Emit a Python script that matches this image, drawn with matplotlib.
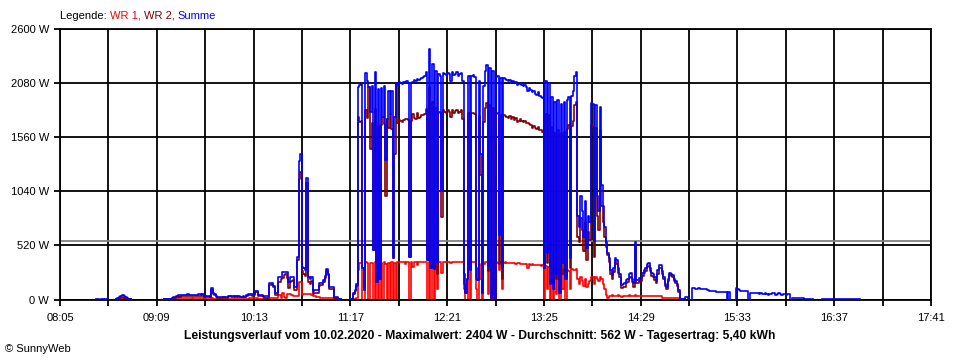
import matplotlib.pyplot as plt
import numpy as np

nan = np.nan

# Minutenwerte ab 08:25 (Minute 20 nach 08:05), Leistung in W
start_min = 20

summe = [
    nan, nan, nan, nan, 4, 4, nan, 4, 4, nan,                    # 08:25
    4, 4, nan, nan, nan, nan, nan, 5, 15, 25,                     # 08:35
    35, 45, 35, 25, 15, 8, 4, nan, nan, nan,                      # 08:45
    nan, nan, nan, nan, nan, nan, nan, nan, nan, nan,             # 08:55
    nan, nan, nan, nan, nan, nan, nan, nan, nan, 3,               # 09:05
    3, 3, 3, 10, 20, 28, 28, 35, 44, 40,                          # 09:15
    45, 48, 42, 44, 50, 46, 44, 40, 44, 48,                       # 09:25
    44, 50, 52, 48, 50, 38, 30, 30, 32, 28,                       # 09:35
    111, 60, 50, 35, 24, 24, 22, 24, 26, 24,                      # 09:45
    24, 35, 38, 32, 35, 38, 34, 36, 30, 28,                       # 09:55
    28, 30, 26, 40, 52, 55, 52, 50, 55, 83,                       # 10:05
    83, 45, 45, 45, 30, 30, 30, 30, 160, 160,                     # 10:15
    160, 130, 60, 60, 218, 218, 218, 265, 265, 265,               # 10:25
    265, 170, 220, 220, 220, 125, 125, 413, 1330, 1400,           # 10:35
    317, 300, 280, 1170, 220, 200, 220, 80, 92, 92,               # 10:45
    92, 160, 160, 160, 190, 230, 295, 250, 120, 120,              # 10:55
    120, 25, 25, 25, 5, 5, nan, nan, nan, nan,                    # 11:05
    nan, nan, 5, 10, 60, 90, 150, 2040, 2060, 2075,               # 11:15
    300, 90, 2180, 2100, 2040, 1800, 2050, 475, 2190, 170,        # 11:25
    2020, 200, 2030, 1750, 2050, 1340, 1740, 2000, 1780, 2000,    # 11:35
    400, 1750, 2080, 2060, 2090, 2080, 2070, 2090, 2080, 2100,    # 11:45
    2085, 410, 2080, 2090, 2110, 2100, 2120, 2110, 2120, 2130,    # 11:55
    2140, 2150, 2190, 380, 2404, 300, 2260, 290, 2200, 350,       # 12:05
    2170, 2150, 1050, 2180, 2170, 2160, 2180, 2170, 2100, 2190,   # 12:15
    2160, 2170, 2190, 2150, 2170, 2180, 2100, 250, 60, 200,       # 12:25
    2150, 280, 2150, 2160, 2140, 300, 190, 2100, 1400, 60,        # 12:35
    2050, 2200, 2250, 320, 2230, 15, 2200, 15, 2140, 2150,        # 12:45
    620, 2130, 300, 2130, 2120, 2110, 2100, 2110, 2090, 2100,     # 12:55
    2080, 2090, 2060, 2070, 2080, 2060, 2050, 2060, 2040, 2000,   # 13:05
    2030, 2010, 1990, 2000, 1980, 1970, 1990, 1960, 1950, 1940,   # 13:15
    300, 2100, 450, 2080, 150, 1950, 100, 1900, 250, 1920,        # 13:25
    60, 1880, 350, 1900, 200, 1920, 1950, 400, 1960, 2000,        # 13:35
    2150, 2190, 800, 700, 1000, 850, 600, 950, 500, 800,          # 13:45
    750, 1890, 1880, 560, 1870, 1000, 850, 1850, 1100, 900,       # 13:55
    700, 550, 450, 400, 280, 240, 300, 400, 380, 300,             # 14:05
    250, 140, 150, 160, 190, 200, 250, 255, 200, 160,             # 14:15
    555, 190, 190, 205, 210, 260, 285, 300, 340, 350,             # 14:25
    300, 255, 250, 220, 190, 280, 335, 330, 270, 220,             # 14:35
    150, 120, 200, 255, 250, 240, 200, 180, 150, 95,              # 14:45
    10, 5, 5, 25, 25, 3, 0, 0, 110, 115,                          # 14:55
    100, 105, 110, 105, 100, 100, 105, 100, 95, 83,               # 15:05
    83, 83, 83, 80, 75, 73, 73, 73, 73, 73,                       # 15:15
    73, 0, 70, 0, 0, 0, 0, 110, 100, 90,                          # 15:25
    85, 85, 85, 80, 80, 0, 66, 66, 66, 65,                        # 15:35
    60, 60, 55, 60, 50, 55, 60, 50, 45, 55,                       # 15:45
    50, 60, 65, 45, 55, 60, 50, 45, 55, 50,                       # 15:55
    45, 55, 50, 0, 15, 15, 15, 12, 12, 12,                        # 16:05
    12, 12, 8, 6, 6, 6, 6, 6, nan, nan,                           # 16:15
    nan, nan, nan, nan, 5, 5, 5, 5, 5, 5,                         # 16:25
    5, 5, 5, 5, 5, 5, 5, 5, 5, 5,                                 # 16:35
    5, 5, 5, 5, 5, 5, 5, 5, 5, 5,                                 # 16:45
]

wr1 = [
    nan, nan, nan, nan, nan, nan, nan, nan, nan, nan,             # 08:25
    nan, nan, nan, nan, nan, nan, nan, 3, 10, 15,                 # 08:35
    22, 28, 20, 15, 8, 5, 3, nan, nan, nan,                       # 08:45
    nan, nan, nan, nan, nan, nan, nan, nan, nan, nan,             # 08:55
    nan, nan, nan, nan, nan, nan, nan, nan, nan, 0,               # 09:05
    0, 0, 2, 5, 8, 10, 12, 12, 14, 12,                            # 09:15
    14, 15, 12, 12, 14, 12, 12, 10, 12, 14,                       # 09:25
    12, 14, 15, 12, 12, 10, 8, 8, 8, 6,                           # 09:35
    15, 10, 8, 6, 5, 5, 5, 5, 5, 5,                               # 09:45
    5, 6, 8, 6, 6, 8, 6, 6, 5, 5,                                 # 09:55
    5, 6, 5, 8, 10, 12, 12, 15, 15, 12,                           # 10:05
    12, 10, 10, 8, 8, 10, 12, 15, 15, 15,                         # 10:15
    12, 12, 15, 20, 45, 45, 20, 60, 25, 20,                       # 10:25
    55, 55, 50, 40, 30, 30, 30, 30, 172, 172,                     # 10:35
    40, 55, 55, 50, 55, 50, 45, 30, 30, 28,                       # 10:45
    25, 25, 20, 20, 20, 18, 18, 18, 18, 15,                       # 10:55
    15, 15, 12, 5, 3, 3, nan, nan, nan, nan,                      # 11:05
    nan, nan, 3, 5, 8, 10, 20, 285, 350, 355,                     # 11:15
    0, 0, 360, 355, 0, 350, 355, 0, 360, 0,                       # 11:25
    350, 0, 355, 0, 360, 340, 0, 355, 0, 360,                     # 11:35
    0, 355, 0, 360, 365, 360, 365, 360, 340, 365,                 # 11:45
    360, 0, 360, 310, 365, 360, 330, 365, 365, 360,               # 11:55
    365, 365, 360, 0, 360, 0, 365, 0, 360, 100,                   # 12:05
    365, 360, 260, 360, 365, 365, 360, 365, 350, 365,             # 12:15
    365, 360, 365, 360, 365, 360, 365, 100, 0, 0,                 # 12:25
    360, 0, 360, 365, 360, 100, 0, 340, 200, 0,                   # 12:35
    340, 360, 365, 50, 360, 0, 355, 0, 360, 355,                  # 12:45
    280, 360, 100, 355, 360, 355, 355, 350, 355, 350,             # 12:55
    350, 345, 350, 350, 345, 340, 345, 345, 340, 300,             # 13:05
    340, 335, 340, 335, 330, 335, 330, 330, 325, 330,             # 13:15
    0, 320, 100, 310, 0, 290, 0, 300, 50, 290,                    # 13:25
    0, 280, 100, 290, 0, 280, 270, 100, 290, 280,                 # 13:35
    285, 290, 200, 150, 220, 180, 130, 200, 120, 150,             # 13:45
    180, 215, 220, 150, 220, 200, 180, 220, 200, 150,             # 13:55
    100, 45, 20, 35, 30, 40, 35, 30, 35, 40,                      # 14:05
    30, 25, 30, 35, 30, 35, 40, 35, 30, 35,                       # 14:15
    40, 35, 30, 30, 30, 30, 30, 30, 30, 30,                       # 14:25
    30, 30, 30, 30, 30, 30, 30, 30, 20, 20,                       # 14:35
    20, 20, 20, 20, 20, 20, 20, 20, 20, 20,                       # 14:45
    0, 0, 0,                                                      # 14:55
]

durchschnitt = 562
x_labels = ['08:05', '09:09', '10:13', '11:17', '12:21', '13:25', '14:29', '15:33', '16:37', '17:41']
y_werte = [0, 520, 1040, 1560, 2080, 2600]

titel = ('Leistungsverlauf vom 10.02.2020 - Maximalwert: 2404 W - '
         'Durchschnitt: 562 W - Tagesertrag: 5,40 kWh')
legende_teile = ['Legende: ', 'WR 1, ', 'WR 2, ', 'Summe']
legende_farben = ['black', '#ff0000', '#800000', '#0000ff']

wr1 = wr1 + [nan] * (len(summe) - len(wr1))
summe = np.array(summe, dtype=float)
wr1 = np.array(wr1, dtype=float)
wr2 = summe - wr1
t = start_min + np.arange(len(summe))

plt.rcParams['font.family'] = ['Liberation Sans', 'DejaVu Sans']
plt.rcParams['font.size'] = 8

W, H = 960, 360
fig = plt.figure(figsize=(W / 100, H / 100), dpi=100)
ax = fig.add_axes([60 / W, 1 - 299.6 / H, 871 / W, 270.6 / H])

lw_grid = 1.3
lw = 1.2
ax.axhline(durchschnitt, color='#808080', lw=lw_grid, zorder=1.5)
ax.plot(t, wr1, drawstyle='steps-post', color='#ff0000', lw=lw, zorder=2)
ax.plot(t, wr2, drawstyle='steps-post', color='#800000', lw=lw, zorder=3)
ax.plot(t, summe, drawstyle='steps-post', color='#0000ff', lw=lw, zorder=4)

ax.set_xlim(0, 576)
ax.set_ylim(0, 2600)
ax.set_xticks(np.arange(0, 577, 64))
ax.set_xticklabels(x_labels)
ax.set_xticks(np.arange(32, 577, 64), minor=True)
ax.set_yticks(y_werte)
ax.set_yticklabels([f'{v} W' for v in y_werte])

ax.tick_params(axis='both', which='both', length=4, width=lw_grid, color='black',
               labelsize=8, labelcolor='black')
ax.tick_params(axis='x', which='major', pad=6)
ax.tick_params(axis='y', which='major', pad=4)
ax.set_axisbelow(True)
ax.grid(axis='x', which='both', color='black', lw=lw_grid)
ax.grid(axis='y', which='major', color='black', lw=lw_grid)
for s in ax.spines.values():
    s.set_linewidth(lw_grid)
    s.set_color('black')

fig.text(0.5, 1 - 336 / H, titel, ha='center', va='center',
         fontsize=8.7, fontweight='bold')
fig.text(5 / W, 1 - 349 / H, '\u00a9 SunnyWeb', ha='left', va='center', fontsize=8)

renderer = fig.canvas.get_renderer()
x = 60 / W
for teil, farbe in zip(legende_teile, legende_farben):
    txt = fig.text(x, 1 - 16 / H, teil, color=farbe, ha='left', va='center', fontsize=8)
    x = txt.get_window_extent(renderer).x1 / fig.bbox.width

fig.savefig('out.png', dpi=100)
